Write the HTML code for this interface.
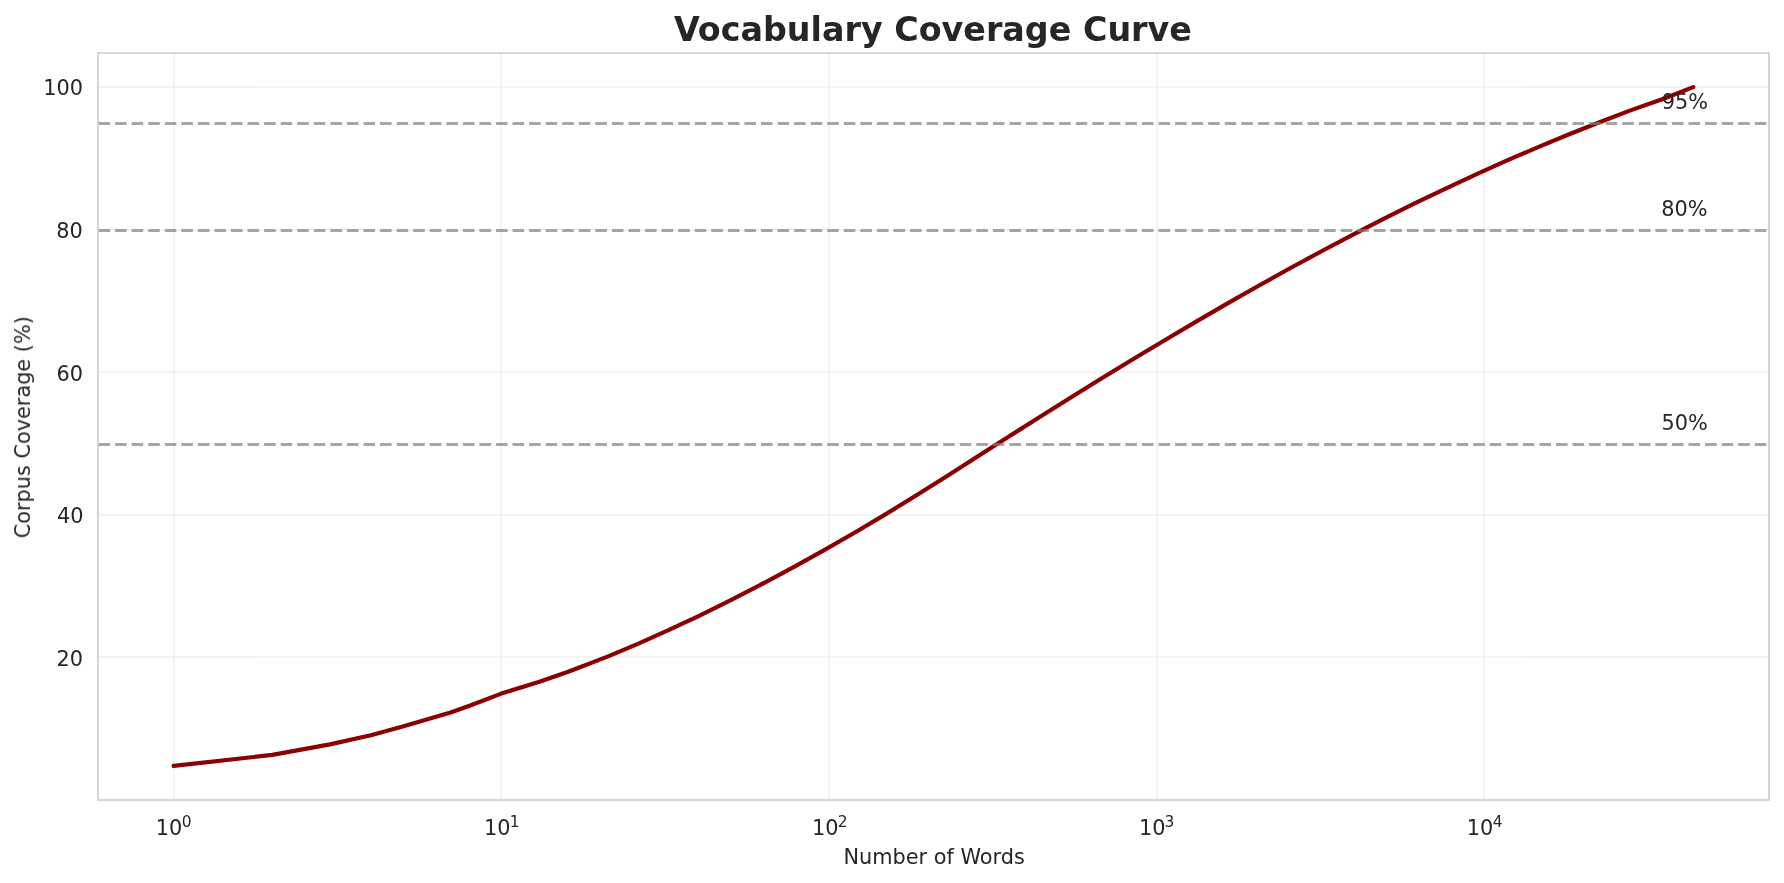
<!DOCTYPE html>
<html><head><meta charset="utf-8"><title>Vocabulary Coverage Curve</title>
<style>html,body{margin:0;padding:0;background:#fff;width:1784px;height:883px;overflow:hidden}
svg{display:block}
svg text{will-change:transform}</style></head>
<body>
<svg width="1784" height="883" viewBox="0 0 1784 883">
<defs><clipPath id="ax"><rect x="97.667" y="53.200" width="1671.521" height="746.683"/></clipPath></defs>
<rect width="1784" height="883" fill="#fff"/>
<g stroke="#cccccc" stroke-opacity="0.3" stroke-width="1.6667" stroke-linecap="round" fill="none" clip-path="url(#ax)">
<path d="M174.00 800.00V53.00"/>
<path d="M501.00 800.00V53.00"/>
<path d="M829.00 800.00V53.00"/>
<path d="M1157.00 800.00V53.00"/>
<path d="M1484.00 800.00V53.00"/>
<path d="M98.00 657.00H1769.00"/>
<path d="M98.00 515.00H1769.00"/>
<path d="M98.00 372.00H1769.00"/>
<path d="M98.00 230.00H1769.00"/>
<path d="M98.00 87.00H1769.00"/>
</g>
<polyline points="173.64,765.94 272.28,754.90 329.98,744.35 370.91,735.20 402.67,726.50 450.55,712.55 469.55,705.80 501.30,693.59 538.63,682.06 568.18,671.78 606.88,656.88 637.27,644.13 666.82,630.95 698.57,616.02 730.32,600.35 760.93,584.60 793.60,567.14 824.62,549.93 854.90,532.52 886.65,513.61 917.26,494.75 948.71,474.93 979.48,455.30 1010.84,435.27 1041.71,415.71 1072.83,396.22 1103.81,377.05 1134.98,358.03 1165.97,339.42 1196.98,321.11 1227.96,303.15 1259.04,285.50 1290.04,268.27 1321.06,251.46 1352.05,235.09 1383.08,219.16 1414.09,203.72 1445.10,188.79 1476.13,174.35 1507.13,160.45 1538.15,147.09 1569.16,134.27 1600.17,122.02 1631.18,110.15 1662.20,99.30 1693.21,87.14" fill="none" stroke="#8b0000" stroke-width="4.1667" stroke-linecap="round" stroke-linejoin="round" clip-path="url(#ax)"/>
<g stroke="#808080" stroke-opacity="0.7" stroke-width="3.1250" stroke-dasharray="11.5625 5.0000" fill="none" clip-path="url(#ax)">
<path d="M98.50 444.50H1769.50"/>
<path d="M98.50 230.50H1769.50"/>
<path d="M98.50 123.50H1769.50"/>
</g>
<path d="M98.00 800.00V53.00H1769.00V800.00Z" fill="none" stroke="#cccccc" stroke-width="1.6667" stroke-linecap="square" stroke-linejoin="miter"/>
<g font-family="DejaVu Sans, sans-serif" fill="#262626" font-size="20.8333">
<text x="155.81" y="835.10">10<tspan font-size="15.4167" x="181.81" y="826.82">0</tspan></text>
<text x="483.91" y="835.12">10<tspan font-size="15.4167" x="509.80" y="827.49">1</tspan></text>
<text x="811.92" y="835.02">10<tspan font-size="15.4167" x="837.80" y="827.35">2</tspan></text>
<text x="1138.96" y="835.02">10<tspan font-size="15.4167" x="1164.58" y="827.22">3</tspan></text>
<text x="1466.66" y="835.10">10<tspan font-size="15.4167" x="1492.79" y="826.98">4</tspan></text>
<text text-anchor="end" x="83.06" y="666.02">20</text>
<text text-anchor="end" x="83.46" y="522.97">40</text>
<text text-anchor="end" x="83.11" y="381.36">60</text>
<text text-anchor="end" x="82.88" y="238.22">80</text>
<text text-anchor="end" x="83.11" y="95.08">100</text>
<text text-anchor="middle" x="934.09" y="863.93">Number of Words</text>
<text text-anchor="middle" transform="translate(29.99 427.30) rotate(-90)">Corpus Coverage (%)</text>
<text x="1661.52" y="430.20">50%</text>
<text x="1661.33" y="215.85">80%</text>
<text x="1661.63" y="108.67">95%</text>
<text font-size="33.3333" font-weight="bold" text-anchor="middle" x="932.89" y="40.76">Vocabulary Coverage Curve</text>
</g>
</svg>
</body></html>
